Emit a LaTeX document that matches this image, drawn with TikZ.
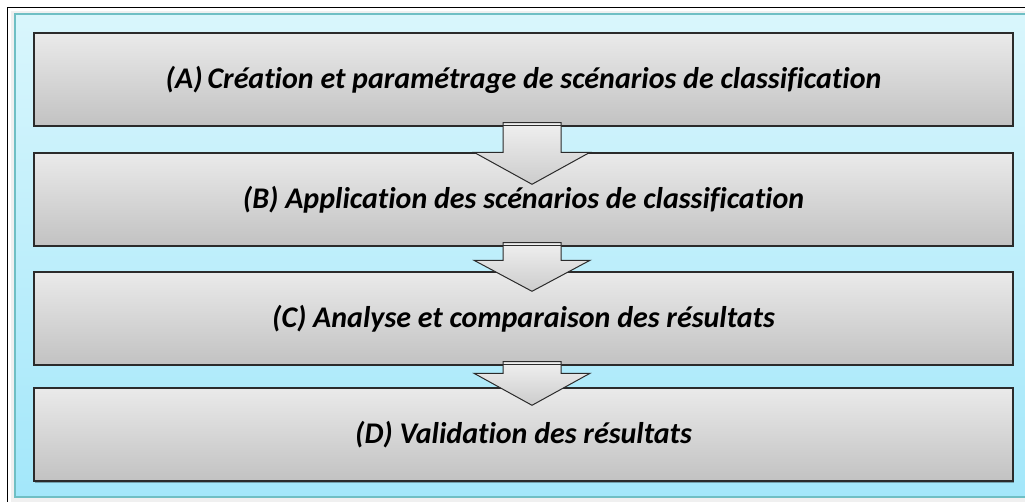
\documentclass[tikz,border=0pt]{standalone}
\usepackage{fontspec}
\setmainfont[Ligatures=NoCommon]{Carlito}
\usetikzlibrary{shadows}
\definecolor{panelTop}{HTML}{D9F6FC}
\definecolor{panelBot}{HTML}{A3E7FA}
\definecolor{panelEdge}{HTML}{6FBFC4}
\definecolor{boxTop}{HTML}{EAEAEA}
\definecolor{boxBot}{HTML}{C2C2C2}
\definecolor{boxEdge}{HTML}{2B2B2B}
\tikzset{
  stepbox/.style={draw=boxEdge, line width=1.4pt, top color=boxTop, bottom color=boxBot,
    minimum width=979pt, minimum height=93pt, inner sep=0pt,
    font=\fontsize{30}{34}\selectfont\bfseries\itshape, text=black,
    drop shadow={shadow xshift=1.2pt, shadow yshift=-1.5pt, fill=black, opacity=0.3}},
  blockarrow/.style={draw=boxEdge, line width=1pt, line join=miter,
    top color=gray!12, bottom color=gray!40},
}
\begin{document}
\begin{tikzpicture}[x=1pt,y=-1pt]
\useasboundingbox (0,0) rectangle (1025,502);
\fill[white] (0,0) rectangle (1025,502);
\begin{scope}
\clip (0,0) rectangle (1025,502);
\draw[black, line width=1.3pt] (7.5,7.5) rectangle (1040,520);
\fill[gray!12] (11,11) rectangle (1040,520);
\shade[top color=panelTop, bottom color=panelBot] (15,14) rectangle (1040,497);
\draw[panelEdge, line width=1.2pt] (1040,14) -- (15,14) -- (15,497) -- (1040,497);
\end{scope}

\node[stepbox] (A) at (523.5,79.5) {(A)\,Création et paramétrage de scénarios de classification};
\node[stepbox] (B) at (523.5,199.5) {(B) Application des scénarios de classification};
\node[stepbox] (C) at (523.5,318.5) {(C) Analyse et comparaison des résultats};
\node[stepbox] (D) at (523.5,434.5) {(D) Validation des résultats};

% arrow A -> B
\draw[blockarrow] ([xshift=-20.5pt,yshift=4pt]A.south)
  -- ([xshift=-20.5pt]B.north) -- ([xshift=-49.5pt]B.north)
  -- ([xshift=8.5pt,yshift=-32pt]B.north)
  -- ([xshift=66.5pt]B.north) -- ([xshift=37.5pt]B.north)
  -- ([xshift=37.5pt,yshift=4pt]A.south) -- cycle;
\draw[boxEdge, line width=1pt] ([xshift=-20.5pt,yshift=1.5pt]A.south) -- ([xshift=37.5pt,yshift=1.5pt]A.south);

% arrow B -> C
\draw[blockarrow] ([xshift=-20.5pt,yshift=4pt]B.south)
  -- ([xshift=-20.5pt,yshift=11pt]C.north) -- ([xshift=-49.5pt,yshift=11pt]C.north)
  -- ([xshift=8.5pt,yshift=-20pt]C.north)
  -- ([xshift=66.5pt,yshift=11pt]C.north) -- ([xshift=37.5pt,yshift=11pt]C.north)
  -- ([xshift=37.5pt,yshift=4pt]B.south) -- cycle;
\draw[boxEdge, line width=1pt] ([xshift=-20.5pt,yshift=1.5pt]B.south) -- ([xshift=37.5pt,yshift=1.5pt]B.south);

% arrow C -> D
\draw[blockarrow] ([xshift=-20.5pt,yshift=4pt]C.south)
  -- ([xshift=-20.5pt,yshift=14pt]D.north) -- ([xshift=-49.5pt,yshift=14pt]D.north)
  -- ([xshift=8.5pt,yshift=-18pt]D.north)
  -- ([xshift=66.5pt,yshift=14pt]D.north) -- ([xshift=37.5pt,yshift=14pt]D.north)
  -- ([xshift=37.5pt,yshift=4pt]C.south) -- cycle;
\draw[boxEdge, line width=1pt] ([xshift=-20.5pt,yshift=1.5pt]C.south) -- ([xshift=37.5pt,yshift=1.5pt]C.south);
\end{tikzpicture}
\end{document}
